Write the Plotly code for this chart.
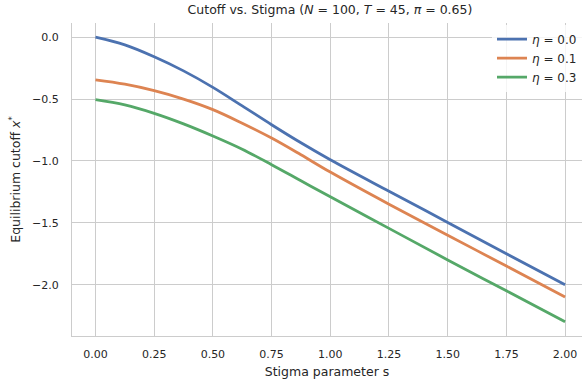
import plotly.graph_objects as go

s_vals = [0.0, 0.125, 0.25, 0.375, 0.5, 0.625, 0.75, 0.875, 1.0, 1.25, 1.5, 1.75, 2.0]
eta_00 = [0.0, -0.062, -0.158, -0.272, -0.405, -0.555, -0.707, -0.853, -0.99, -1.245, -1.497, -1.75, -2.0]
eta_01 = [-0.345, -0.38, -0.432, -0.50, -0.585, -0.695, -0.815, -0.95, -1.09, -1.35, -1.60, -1.85, -2.10]
eta_03 = [-0.505, -0.547, -0.615, -0.70, -0.798, -0.905, -1.03, -1.16, -1.29, -1.545, -1.80, -2.05, -2.30]
series_names = ["<i>η</i> = 0.0", "<i>η</i> = 0.1", "<i>η</i> = 0.3"]
colors = ["#4C72B0", "#DD8452", "#55A868"]
x_ticks = [0.0, 0.25, 0.5, 0.75, 1.0, 1.25, 1.5, 1.75, 2.0]
y_ticks = [0.0, -0.5, -1.0, -1.5, -2.0]

fig = go.Figure()
for name, ys, c in zip(series_names, [eta_00, eta_01, eta_03], colors):
    fig.add_trace(go.Scatter(x=s_vals, y=ys, mode="lines", name=name,
                             line=dict(color=c, width=2.8, shape="spline", smoothing=1.0)))

font = "DejaVu Sans, Arial, sans-serif"
txt = "#262626"
fig.update_layout(
    width=582, height=388,
    margin=dict(l=72, r=0, t=23, b=52),
    paper_bgcolor="white", plot_bgcolor="white",
    font=dict(family=font, size=11, color=txt),
    title=dict(text="Cutoff vs. Stigma (<i>N</i> = 100, <i>T</i> = 45, <i>π</i> = 0.65)",
               x=0.567, xanchor="center", y=0.975, yanchor="middle",
               font=dict(size=12.5, color=txt)),
    showlegend=True,
    legend=dict(x=1.0, xanchor="right", y=0.995, yanchor="top",
                bgcolor="rgba(255,255,255,0.8)", font=dict(size=12, color=txt),
                itemwidth=30, tracegroupgap=0),
    xaxis=dict(range=[-0.1, 2.072], tickvals=x_ticks, tickformat=".2f",
               showgrid=True, gridcolor="#cccccc", gridwidth=1,
               showline=True, linecolor="#cccccc", linewidth=1.2,
               zeroline=False, ticks="", ticklabelstandoff=8,
               tickfont=dict(size=11, color=txt),
               title=dict(text="Stigma parameter s", font=dict(size=12.5, color=txt), standoff=6)),
    yaxis=dict(range=[-2.415, 0.115], tickvals=y_ticks, tickformat=".1f",
               showgrid=True, gridcolor="#cccccc", gridwidth=1,
               showline=True, linecolor="#cccccc", linewidth=1.2,
               zeroline=False, ticks="", ticklabelstandoff=10,
               tickfont=dict(size=11, color=txt),
               title=dict(text="Equilibrium cutoff <i>x</i><sup>*</sup>", font=dict(size=12.5, color=txt), standoff=8)),
)

fig.write_html("out.html")
